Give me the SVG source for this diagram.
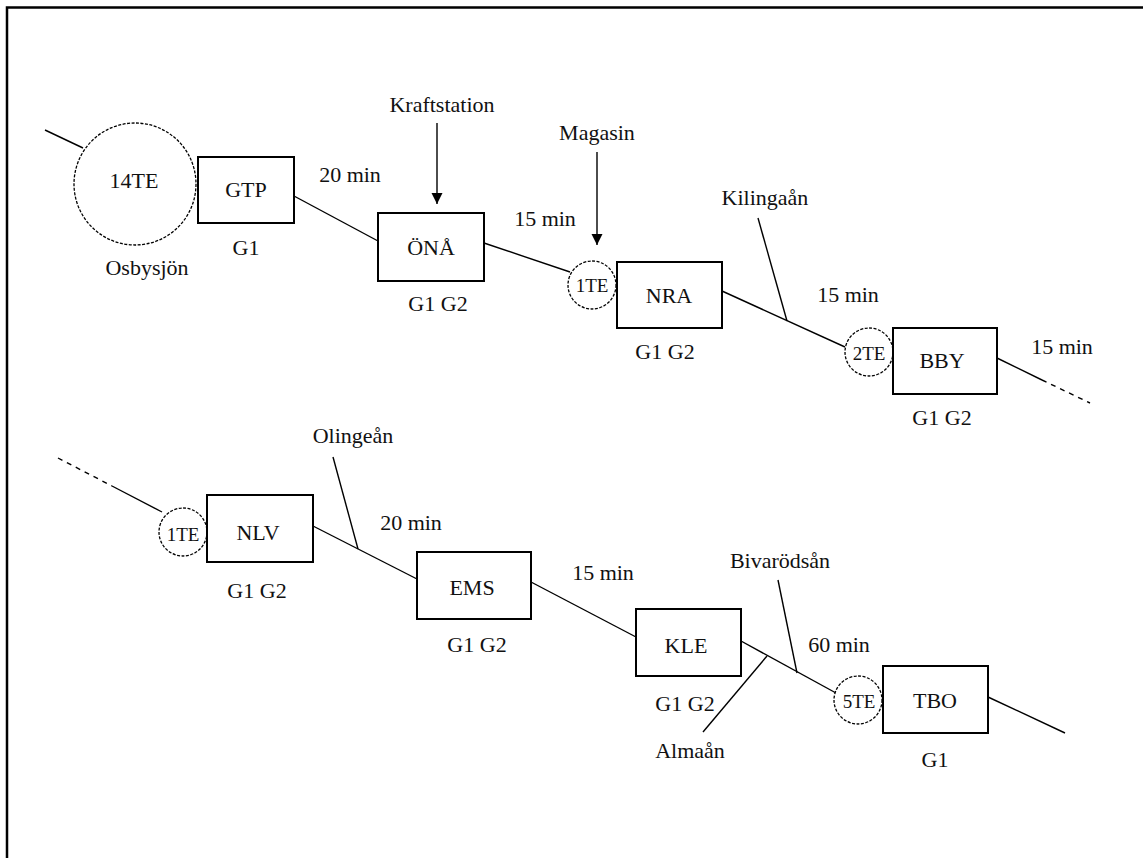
<svg xmlns="http://www.w3.org/2000/svg" width="1143" height="858" viewBox="0 0 1143 858">
<defs>
<marker id="arr" markerWidth="12" markerHeight="12" refX="11" refY="6" orient="auto" markerUnits="userSpaceOnUse">
<path d="M0,0.5 L11,6 L0,11.5 Z" fill="#000"/>
</marker>
<style>
text{font-family:"Liberation Serif","Times New Roman",serif;font-size:22px;fill:#111;text-anchor:middle}
.sm{font-size:19px}
.box{fill:#fff;stroke:#000;stroke-width:2}
.res{fill:#fff;stroke:#000;stroke-width:1.3;stroke-dasharray:3 1.5}
.ln{stroke:#000;stroke-width:1.4;fill:none}
.dl{stroke:#000;stroke-width:1.4;fill:none;stroke-dasharray:5 5}
</style>
</defs>
<rect width="1143" height="858" fill="#fff"/>
<path d="M7,858 V7.5 H1143" fill="none" stroke="#000" stroke-width="2.5"/>

<g id="connectors">
<line class="ln" x1="45" y1="130" x2="83" y2="148"/>
<line class="ln" x1="294" y1="196" x2="378" y2="241"/>
<line class="ln" x1="484" y1="243" x2="570" y2="272"/>
<line class="ln" x1="722" y1="291" x2="845" y2="347"/>
<line class="ln" x1="758" y1="218" x2="787" y2="321"/>
<line class="ln" x1="997" y1="358" x2="1042" y2="380"/>
<line class="dl" x1="1042" y1="380" x2="1090" y2="403"/>
<line class="ln" x1="437" y1="123" x2="437" y2="204" marker-end="url(#arr)"/>
<line class="ln" x1="597" y1="152" x2="597" y2="245" marker-end="url(#arr)"/>
<line class="dl" x1="58" y1="458" x2="112" y2="486"/>
<line class="ln" x1="112" y1="486" x2="162" y2="512"/>
<line class="ln" x1="313" y1="526" x2="417" y2="579"/>
<line class="ln" x1="333" y1="457" x2="358" y2="549"/>
<line class="ln" x1="531" y1="582" x2="636" y2="637"/>
<line class="ln" x1="741" y1="641" x2="836" y2="693"/>
<line class="ln" x1="767" y1="656" x2="703" y2="732"/>
<line class="ln" x1="778" y1="580" x2="797" y2="673"/>
<line class="ln" x1="988" y1="697" x2="1065" y2="733"/>
</g>

<g id="osbysjon">
<circle class="res" cx="135" cy="184" r="61"/>
<text x="134" y="188">14TE</text>
<text x="147" y="275">Osbysjön</text>
</g>
<g id="gtp">
<rect class="box" x="198" y="157" width="96" height="66"/>
<text x="246" y="197">GTP</text>
<text x="246" y="255">G1</text>
</g>
<g id="ona">
<rect class="box" x="378" y="213" width="106" height="68"/>
<text x="431" y="255">ÖNÅ</text>
<text x="438" y="311">G1 G2</text>
</g>
<g id="te1a">
<circle class="res" cx="592" cy="285" r="24"/>
<text class="sm" x="592" y="292">1TE</text>
</g>
<g id="nra">
<rect class="box" x="617" y="262" width="105" height="66"/>
<text x="669" y="303">NRA</text>
<text x="665" y="359">G1 G2</text>
</g>
<g id="te2">
<circle class="res" cx="869" cy="352" r="24"/>
<text class="sm" x="869" y="360">2TE</text>
</g>
<g id="bby">
<rect class="box" x="893" y="328" width="104" height="66"/>
<text x="942" y="368">BBY</text>
<text x="942" y="425">G1 G2</text>
</g>
<g id="te1b">
<circle class="res" cx="183" cy="532" r="24"/>
<text class="sm" x="183" y="541">1TE</text>
</g>
<g id="nlv">
<rect class="box" x="207" y="495" width="106" height="67"/>
<text x="258" y="540">NLV</text>
<text x="257" y="598">G1 G2</text>
</g>
<g id="ems">
<rect class="box" x="417" y="552" width="114" height="67"/>
<text x="472" y="595">EMS</text>
<text x="477" y="652">G1 G2</text>
</g>
<g id="kle">
<rect class="box" x="636" y="609" width="105" height="67"/>
<text x="686" y="653">KLE</text>
<text x="685" y="711">G1 G2</text>
</g>
<g id="te5">
<circle class="res" cx="858" cy="700" r="24"/>
<text class="sm" x="859" y="708">5TE</text>
</g>
<g id="tbo">
<rect class="box" x="883" y="666" width="105" height="67"/>
<text x="935" y="708">TBO</text>
<text x="935" y="767">G1</text>
</g>

<g id="labels">
<text x="350" y="182">20 min</text>
<text x="442" y="112">Kraftstation</text>
<text x="545" y="226">15 min</text>
<text x="597" y="140">Magasin</text>
<text x="765" y="205">Kilingaån</text>
<text x="848" y="302">15 min</text>
<text x="1062" y="354">15 min</text>
<text x="353" y="443">Olingeån</text>
<text x="411" y="530">20 min</text>
<text x="603" y="580">15 min</text>
<text x="780" y="568">Bivarödsån</text>
<text x="839" y="652">60 min</text>
<text x="690" y="758">Almaån</text>
</g>
</svg>
